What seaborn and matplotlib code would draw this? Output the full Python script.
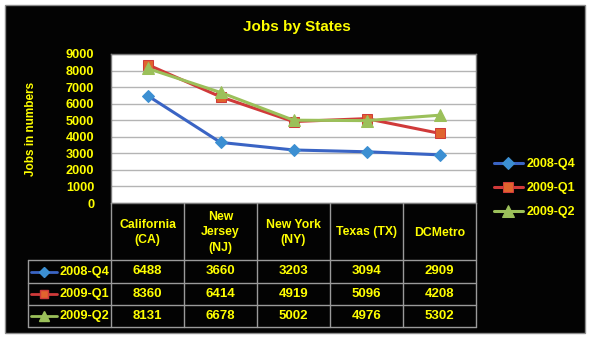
import matplotlib
matplotlib.use("Agg")
import matplotlib.pyplot as plt
from matplotlib.lines import Line2D
from matplotlib.patches import Rectangle
from matplotlib.transforms import blended_transform_factory
import seaborn as sns
import pandas as pd

# Data
states = ["California\n(CA)", "New\nJersey\n(NJ)", "New York\n(NY)", "Texas (TX)", "DCMetro"]
quarters = ["2008-Q4", "2009-Q1", "2009-Q2"]
q4_2008 = [6488, 3660, 3203, 3094, 2909]
q1_2009 = [8360, 6414, 4919, 5096, 4208]
q2_2009 = [8131, 6678, 5002, 4976, 5302]
y_ticks = [0, 1000, 2000, 3000, 4000, 5000, 6000, 7000, 8000, 9000]

series = {"2008-Q4": q4_2008, "2009-Q1": q1_2009, "2009-Q2": q2_2009}
df = pd.DataFrame(
    [(s, q, v) for q, vals in series.items() for s, v in zip(states, vals)],
    columns=["state", "quarter", "jobs"],
)

styles = {
    "2008-Q4": dict(color="#3a64c4", marker="D", mfc="#3c8fd2", mec="#3c8fd2", ms=6.5),
    "2009-Q1": dict(color="#d03a3a", marker="s", mfc="#e0642e", mec="#d03a3a", ms=7.5),
    "2009-Q2": dict(color="#9bc05a", marker="^", mfc="#9bc05a", mec="#9bc05a", ms=8.5),
}

YEL = "#ffff00"
GRID = "#9a9a9a"
FONT = "Liberation Sans"

sns.set_theme(style="white")
plt.rcParams["font.family"] = [FONT, "DejaVu Sans"]

W, H = 592, 340
fig = plt.figure(figsize=(W / 100, H / 100), dpi=100, facecolor="white")


def fx(x):
    return x / W


def fy(y):
    return 1 - y / H


# Black chart area with thin grey border
fig.add_artist(Rectangle((fx(5), fy(333)), fx(580), 328 / H, transform=fig.transFigure,
                         facecolor="#030303", edgecolor="#8c8c8c", lw=1.0, zorder=0))

px0, px1, py0, py1 = 111, 476, 54, 203
ax = fig.add_axes([fx(px0), fy(py1), (px1 - px0) / W, (py1 - py0) / H])
ax.set_facecolor("white")

for q in quarters:
    st = styles[q]
    sns.lineplot(data=df[df.quarter == q], x="state", y="jobs", ax=ax, color=st["color"],
                 lw=2.2, marker=st["marker"], markerfacecolor=st["mfc"],
                 markeredgecolor=st["mec"], markersize=st["ms"], label=q, sort=False)

ax.set_xlim(-0.5, len(states) - 0.5)
ax.set_ylim(0, 9000)
ax.set_yticks(y_ticks)
ax.set_yticklabels([str(t) for t in y_ticks], color=YEL, fontsize=9.2, fontweight="bold")
ax.tick_params(axis="y", length=0, pad=12)
ax.set_xticks([])
ax.set_xlabel("")
ax.set_ylabel("Jobs in numbers", color=YEL, fontsize=8.5, fontweight="bold")
ax.yaxis.set_label_coords(-0.202, 0.50)
ax.grid(axis="y", color="#b4b4b4", lw=1.0)
ax.set_axisbelow(True)
for sp in ax.spines.values():
    sp.set_color("#7a7a7a")
    sp.set_linewidth(1.0)

leg = ax.legend(loc="center left", bbox_to_anchor=(1.035, 0.10), frameon=False,
                fontsize=9, handlelength=2.3, labelspacing=0.95, handletextpad=0.3,
                borderaxespad=0)
for t in leg.get_texts():
    t.set_color(YEL)
    t.set_fontweight("bold")

fig.suptitle("Jobs by States", x=fx(297), y=fy(27), va="center", color=YEL,
             fontsize=11, fontweight="bold")

# Data table under the plot
col_x = [-0.5 + i for i in range(len(states) + 1)]
bt = blended_transform_factory(ax.transData, fig.transFigure)
row_y = [260, 283, 305, 327]
key_left = 28

for cx in col_x:
    fig.add_artist(Line2D([cx, cx], [fy(py1), fy(row_y[-1])], transform=bt, color=GRID, lw=1.0))
fig.add_artist(Line2D([fx(key_left), fx(key_left)], [fy(row_y[0]), fy(row_y[-1])],
                      transform=fig.transFigure, color=GRID, lw=1.0))
for y in row_y:
    fig.add_artist(Line2D([fx(key_left), fx(px1)], [fy(y), fy(y)],
                          transform=fig.transFigure, color=GRID, lw=1.0))

for i, s in enumerate(states):
    fig.text(i, fy((py1 + row_y[0]) / 2 + 1), s, transform=bt, ha="center", va="center",
             color=YEL, fontsize=8.8, fontweight="bold", linespacing=1.4)

for r, q in enumerate(quarters):
    yc = (row_y[r] + row_y[r + 1]) / 2
    st = styles[q]
    fig.add_artist(Line2D([fx(31), fx(57)], [fy(yc), fy(yc)], transform=fig.transFigure,
                          color=st["color"], lw=2.0))
    fig.add_artist(Line2D([fx(44)], [fy(yc)], transform=fig.transFigure, marker=st["marker"],
                          mfc=st["mfc"], mec=st["mec"], ms=st["ms"] - 1.5, lw=0))
    fig.text(fx(59), fy(yc), q, ha="left", va="center", color=YEL, fontsize=9.2,
             fontweight="bold")
    for i, v in enumerate(series[q]):
        fig.text(i, fy(yc), f"{v}", transform=bt, ha="center", va="center", color=YEL,
                 fontsize=9.5, fontweight="bold")

fig.savefig("out.png", dpi=100, facecolor=fig.get_facecolor())
